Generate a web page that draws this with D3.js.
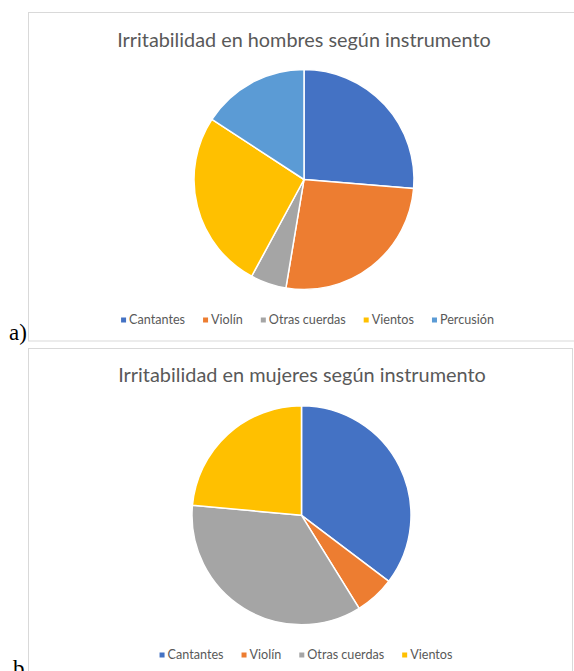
<!DOCTYPE html>
<html><head><meta charset="utf-8">
<script src="https://cdn.jsdelivr.net/npm/d3@7"></script>
<style>html,body{margin:0;padding:0;background:#fff;}svg{display:block;}</style>
</head><body>
<svg id="c" width="574" height="671"></svg>
<script>
const categoriesA = ["Cantantes", "Violín", "Otras cuerdas", "Vientos", "Percusión"];
const valuesA = [5, 5, 1, 5, 3];
const categoriesB = ["Cantantes", "Violín", "Otras cuerdas", "Vientos"];
const valuesB = [6, 1, 6, 4];
const colors = ["#4472C4", "#ED7D31", "#A5A5A5", "#FFC000", "#5B9BD5"];
const titleA = "Irritabilidad en hombres según instrumento";
const titleB = "Irritabilidad en mujeres según instrumento";

const svg = d3.select("#c");
const font = "Lato, 'Open Sans', sans-serif";

function fitText(sel, target){
  const w = sel.node().getComputedTextLength();
  const fs = parseFloat(sel.attr("font-size"));
  sel.attr("font-size", fs * target / w);
}

function chart(cfg){
  const g = svg.append("g");
  g.append("rect").attr("x", cfg.fx).attr("y", cfg.fy).attr("width", cfg.fw).attr("height", cfg.fh)
    .attr("fill", "#fff").attr("stroke", "#D9D9D9").attr("stroke-width", 1);
  const t = g.append("text").attr("x", cfg.tx).attr("y", cfg.ty).attr("text-anchor", "middle")
    .attr("font-family", font).attr("font-size", 19).attr("fill", "#595959").text(cfg.title);
  fitText(t, cfg.tw);
  const color = d3.scaleOrdinal().domain(categoriesA).range(colors);
  const pie = d3.pie().sort(null).value(d => d.v);
  const data = cfg.cats.map((c, i) => ({c, v: cfg.vals[i]}));
  const arc = d3.arc().innerRadius(0).outerRadius(cfg.r);
  g.append("g").attr("transform", `translate(${cfg.cx},${cfg.cy})`)
    .selectAll("path").data(pie(data)).join("path")
    .attr("d", arc).attr("fill", d => color(d.data.c))
    .attr("stroke", "#fff").attr("stroke-width", 1.5).attr("stroke-linejoin", "round");
  // legend
  const lg = g.append("g");
  const items = lg.selectAll("g").data(cfg.cats).join("g");
  items.append("rect").attr("width", 5).attr("height", 5).attr("y", -2.5).attr("fill", d => color(d));
  const txt = items.append("text").attr("x", 8).attr("dy", "0.35em")
    .attr("font-family", font).attr("font-size", 12).attr("fill", "#595959").text(d => d);
  // fit font size so "Cantantes" ~56px
  const w0 = txt.nodes()[0].getComputedTextLength();
  txt.attr("font-size", 12 * 56 / w0);
  let x = 0; const gap = 18;
  items.each(function(){
    const n = d3.select(this);
    const w = n.select("text").node().getComputedTextLength();
    n.attr("transform", `translate(${x},0)`);
    x += 8 + w + gap;
  });
  const total = x - gap;
  lg.attr("transform", `translate(${cfg.lx - total/2},${cfg.ly})`);
}

chart({fx:28.5, fy:12.5, fw:547, fh:328.5, tx:304, ty:47, tw:374, title:titleA,
  cats:categoriesA, vals:valuesA, cx:304, cy:179.5, r:110, lx:307.5, ly:320});
chart({fx:28.5, fy:348.5, fw:544, fh:340, tx:302, ty:382, tw:368, title:titleB,
  cats:categoriesB, vals:valuesB, cx:301.5, cy:515.3, r:109.5, lx:306, ly:655});

svg.append("text").attr("x", 9).attr("y", 340).attr("font-family", "'Liberation Serif', serif")
  .attr("font-size", 23).attr("fill", "#000").text("a)");
svg.append("text").attr("x", 13).attr("y", 676).attr("font-family", "'Liberation Serif', serif")
  .attr("font-size", 23).attr("fill", "#000").text("b");
</script>
</body></html>
